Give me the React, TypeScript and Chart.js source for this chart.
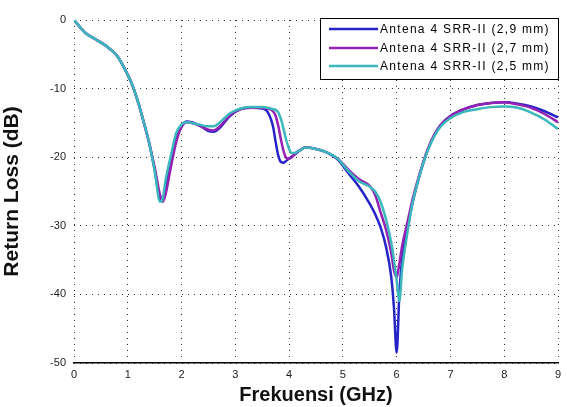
import React, { useEffect, useRef } from "react";
import { Chart, registerables } from "chart.js";

Chart.register(...registerables);

const freqGHz = [0, 0.2, 0.4, 0.6, 0.8, 1.0, 1.1, 1.2, 1.3, 1.4, 1.5, 1.6, 1.65, 1.7, 1.8, 1.9, 2.0, 2.1, 2.3, 2.5, 2.6, 2.7, 2.9, 3.1, 3.3, 3.5, 3.6, 3.7, 3.75, 3.8, 3.85, 3.9, 3.95, 4.0, 4.05, 4.1, 4.15, 4.2, 4.3, 4.5, 4.7, 4.9, 5.1, 5.3, 5.5, 5.6, 5.7, 5.8, 5.9, 5.95, 6.0, 6.05, 6.1, 6.2, 6.3, 6.45, 6.6, 6.8, 7.0, 7.25, 7.5, 7.75, 8.0, 8.25, 8.5, 8.75, 9.0];

const rl29 = [0, -1.8, -2.8, -3.8, -5.2, -8.0, -9.8, -12.2, -15, -18, -21.8, -26.0, -26.3, -24.5, -20.5, -17.3, -15.5, -14.8, -15.2, -16.2, -16.3, -15.8, -14, -13, -12.8, -12.9, -13.4, -15.5, -17.8, -19.8, -20.7, -20.8, -20.5, -20.2, -19.9, -19.6, -19.3, -19.0, -18.6, -18.8, -19.3, -20.3, -22.3, -24.3, -26.8, -28.3, -30.2, -33.0, -37.5, -42, -48.5, -40, -35, -30.5, -26.5, -22, -18.5, -15.5, -14, -13, -12.4, -12.1, -12.0, -12.2, -12.6, -13.3, -14.2];

const rl27 = [0, -1.8, -2.8, -3.8, -5.2, -8.0, -9.8, -12.2, -15, -18, -21.5, -25.5, -26.5, -25.5, -21.5, -17.8, -15.6, -14.9, -15.3, -16.0, -16.1, -15.6, -13.9, -13, -12.8, -12.8, -12.9, -13.3, -14.0, -15.5, -17.5, -19.2, -20.1, -20.2, -20.0, -19.6, -19.2, -19.0, -18.6, -18.8, -19.3, -20.2, -21.8, -23.2, -24.2, -25.5, -28, -30.5, -34, -36.5, -37.5, -35.5, -33, -29.5, -26, -21.8, -18.4, -15.5, -14, -13, -12.4, -12.1, -12.0, -12.3, -12.8, -13.7, -14.9];

const rl25 = [0, -1.8, -2.8, -3.8, -5.2, -8.0, -9.8, -12.2, -15, -18, -22, -26.5, -26.0, -23.5, -19.8, -16.5, -15.2, -14.9, -15.2, -15.5, -15.5, -15.0, -13.6, -12.9, -12.7, -12.7, -12.8, -13.0, -13.1, -13.5, -14.5, -16, -17.6, -18.8, -19.4, -19.4, -19.2, -19.0, -18.6, -18.8, -19.3, -20.2, -22, -23.5, -24.3, -25, -26.5, -29, -32.5, -35, -38, -41, -36.5, -31, -26.5, -22, -18.6, -15.7, -14.3, -13.4, -13, -12.7, -12.6, -12.8, -13.5, -14.5, -15.9];

const seriesLabels = ["Antena 4 SRR-II (2,9 mm)", "Antena 4 SRR-II (2,7 mm)", "Antena 4 SRR-II (2,5 mm)"];
const seriesColors = ["#2424c8", "#9420b4", "#3cb8bc"];
const xTicks = [0, 1, 2, 3, 4, 5, 6, 7, 8, 9];
const yTicks = [0, -10, -20, -30, -40, -50];

const legendPlugin = {
  id: "boxLegend",
  afterDraw(chart: any) {
    const ctx = chart.ctx;
    const x0 = 320, y0 = 18, x1 = 558, y1 = 79;
    ctx.save();
    ctx.fillStyle = "#ffffff";
    ctx.fillRect(x0, y0, x1 - x0, y1 - y0);
    ctx.strokeStyle = "#000";
    ctx.lineWidth = 1;
    ctx.strokeRect(x0 + 0.5, y0 + 0.5, x1 - x0, y1 - y0);
    ctx.font = "12px Arial, 'Liberation Sans', sans-serif";
    (ctx as any).letterSpacing = "1.3px";
    ctx.textBaseline = "middle";
    ctx.textAlign = "left";
    seriesLabels.forEach((lab, i) => {
      const y = [29, 48, 66][i];
      ctx.strokeStyle = seriesColors[i];
      ctx.lineWidth = 2.5;
      ctx.beginPath();
      ctx.moveTo(329, y);
      ctx.lineTo(378, y);
      ctx.stroke();
      ctx.fillStyle = "#000";
      ctx.fillText(lab, 380, y + 1);
    });
    ctx.restore();
  },
};

export default function App() {
  const ref = useRef<HTMLCanvasElement>(null);
  useEffect(() => {
    if (!ref.current) return;
    const datasets = [rl29, rl27, rl25].map((vals, i) => ({
      label: seriesLabels[i],
      data: freqGHz.map((f, j) => ({ x: f, y: vals[j] })),
      borderColor: seriesColors[i],
      backgroundColor: seriesColors[i],
      borderWidth: 2.5,
      pointRadius: 0,
      cubicInterpolationMode: "monotone" as const,
      fill: false,
    }));
    const chart = new Chart(ref.current, {
      type: "line",
      data: { datasets: datasets.reverse() },
      plugins: [legendPlugin],
      options: {
        animation: false,
        responsive: false,
        layout: { padding: { left: 0, right: 9, top: 20, bottom: 0 } },
        plugins: { legend: { display: false }, tooltip: { enabled: false } },
        scales: {
          x: {
            type: "linear",
            min: 0,
            max: 9,
            afterBuildTicks: (s: any) => { s.ticks = xTicks.map((v) => ({ value: v })); },
            afterFit: (s: any) => { s.height = 44; },
            border: { display: true, color: "#000", width: 1.5, dash: [1, 5] },
            grid: { color: "#333", lineWidth: 1, drawTicks: false },
            ticks: { color: "#222", font: { family: "Arial", size: 11 }, padding: 5 },
            title: { display: true, text: "Frekuensi (GHz)", color: "#111", font: { family: "Arial", size: 20, weight: "bold" }, padding: { top: 0, bottom: 0 } },
          },
          y: {
            type: "linear",
            min: -50,
            max: 0,
            afterBuildTicks: (s: any) => { s.ticks = yTicks.map((v) => ({ value: v })); },
            afterFit: (s: any) => { s.width = 74; },
            border: { display: false, dash: [1, 5] },
            grid: { color: "#333", lineWidth: 1, drawTicks: false },
            ticks: { color: "#222", font: { family: "Arial", size: 11 }, padding: 8 },
            title: { display: true, text: "Return Loss (dB)", color: "#111", font: { family: "Arial", size: 21, weight: "bold" }, padding: { top: 0, bottom: 6 } },
          },
        },
      },
    } as any);
    return () => chart.destroy();
  }, []);
  return (
    <div style={{ position: "fixed", left: 0, top: 0, width: 567, height: 407, background: "#fff" }}>
      <canvas ref={ref} width={567} height={407} style={{ width: 567, height: 407 }} />
    </div>
  );
}
